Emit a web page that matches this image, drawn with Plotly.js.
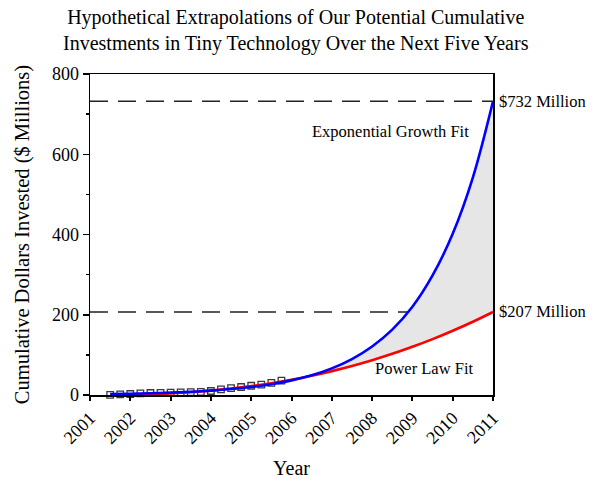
<!DOCTYPE html>
<html>
<head>
<meta charset="utf-8">
<script src="https://cdn.plot.ly/plotly-3.0.1.min.js"></script>
<style>html,body{margin:0;padding:0;background:#fff;}#chart{width:592px;height:479px;}</style>
</head>
<body>
<div id="chart"></div>
<script>
// Observed cumulative investments (squares)
const dataYears = [2001.5, 2001.75, 2002.0, 2002.25, 2002.5, 2002.75, 2003.0, 2003.25, 2003.5, 2003.75, 2004.0, 2004.25, 2004.5, 2004.75, 2005.0, 2005.25, 2005.5, 2005.75];
const dataValues = [0.5, 1.5, 2.5, 4, 5, 5.5, 6, 6.5, 7, 8, 10, 14, 17, 20, 23, 26, 30, 36];

// Fitted curves
const fitYears = [2001.5, 2002, 2002.5, 2003, 2003.5, 2004, 2004.5, 2005, 2005.5, 2006, 2006.5, 2007, 2007.5, 2008, 2008.5, 2009, 2009.5, 2010, 2010.5, 2011];
const expValues = [2.5, 3.3, 4.5, 6.0, 8.1, 11.0, 14.8, 20.0, 27.0, 36.4, 49.2, 66.4, 89.6, 121, 163, 220, 298, 402, 542, 732];
const powValues = [0.14, 0.75, 2.0, 4.1, 7.0, 11.0, 16.0, 22.1, 29.5, 38.2, 48.1, 59.5, 72.4, 86.7, 102.6, 120.1, 139.2, 160.1, 182.6, 207];

const refLevels = [732, 207];
const refLabels = ['$732 Million', '$207 Million'];
const yearTicks = [2001, 2002, 2003, 2004, 2005, 2006, 2007, 2008, 2009, 2010, 2011];
const yTicks = [0, 200, 400, 600, 800];
const titleText = 'Hypothetical Extrapolations of Our Potential Cumulative<br>Investments in Tiny Technology Over the Next Five Years';

const serif = 'Liberation Serif, Times New Roman, serif';

const traces = [
  {x: fitYears, y: powValues, type: 'scatter', mode: 'lines', line: {width: 0, color: 'rgba(0,0,0,0)'}, hoverinfo: 'skip', showlegend: false},
  {x: fitYears, y: expValues, type: 'scatter', mode: 'lines', line: {width: 0, color: 'rgba(0,0,0,0)'}, fill: 'tonexty', fillcolor: '#e6e6e6', hoverinfo: 'skip', showlegend: false},
  {x: dataYears, y: dataValues, type: 'scatter', mode: 'markers', marker: {symbol: 'square-open', size: 6.5, color: '#3a3a3a', line: {width: 1.3}}, showlegend: false, cliponaxis: false},
  {x: fitYears, y: powValues, type: 'scatter', mode: 'lines', line: {color: '#ff0000', width: 2.6, shape: 'spline'}, showlegend: false},
  {x: fitYears, y: expValues, type: 'scatter', mode: 'lines', line: {color: '#0000ff', width: 2.6, shape: 'spline'}, showlegend: false}
];

const shapes = refLevels.map(v => ({
  type: 'line', xref: 'paper', x0: 0, x1: 1, yref: 'y', y0: v, y1: v,
  line: {color: '#222', width: 1.6, dash: '18px,10px'}, layer: 'below'
}));

const annotations = refLevels.map((v, i) => ({
  xref: 'paper', x: 1.01, xanchor: 'left', yref: 'y', y: v, yanchor: 'middle',
  text: refLabels[i], showarrow: false, font: {family: serif, size: 16.5, color: '#000'}
}));
annotations.push({x: 2008.45, y: 657, xref: 'x', yref: 'y', text: 'Exponential Growth Fit', showarrow: false, font: {family: serif, size: 16.5, color: '#000'}});
annotations.push({x: 2009.3, y: 67, xref: 'x', yref: 'y', text: 'Power Law Fit', showarrow: false, font: {family: serif, size: 16.5, color: '#000'}});
annotations.push({xref: 'paper', x: 0.511, xanchor: 'center', yref: 'paper', y: 1.134, yanchor: 'middle',
  text: titleText, showarrow: false, font: {family: serif, size: 20, color: '#000'}});

const layout = {
  width: 592, height: 479,
  margin: {l: 90, r: 99, t: 74, b: 84},
  paper_bgcolor: '#fff', plot_bgcolor: '#fff',
  font: {family: serif, color: '#000'},
  xaxis: {
    range: [2001, 2011], tickvals: yearTicks, ticktext: yearTicks.map(String), tickangle: -45,
    ticks: 'outside', ticklen: 4, tickwidth: 2, tickcolor: '#000',
    showline: true, linecolor: '#000', linewidth: 1.5, mirror: true,
    showgrid: false, zeroline: false,
    tickfont: {family: serif, size: 18, color: '#000'},
    title: {text: 'Year', font: {family: serif, size: 20, color: '#000'}, standoff: 14}
  },
  yaxis: {
    range: [0, 800], tickvals: yTicks, ticks: 'outside', ticklen: 6, tickwidth: 1.5, tickcolor: '#000',
    minor: {dtick: 100, ticks: 'outside', ticklen: 3, tickcolor: '#000', showgrid: false},
    showline: true, linecolor: '#000', linewidth: 1.5, mirror: true,
    showgrid: false, zeroline: false,
    tickfont: {family: serif, size: 18, color: '#000'},
    title: {text: 'Cumulative Dollars Invested ($ Millions)', font: {family: serif, size: 20.5, color: '#000'}, standoff: 16}
  },
  shapes: shapes,
  annotations: annotations
};

Plotly.newPlot('chart', traces, layout, {displayModeBar: false, staticPlot: true});
</script>
</body>
</html>
